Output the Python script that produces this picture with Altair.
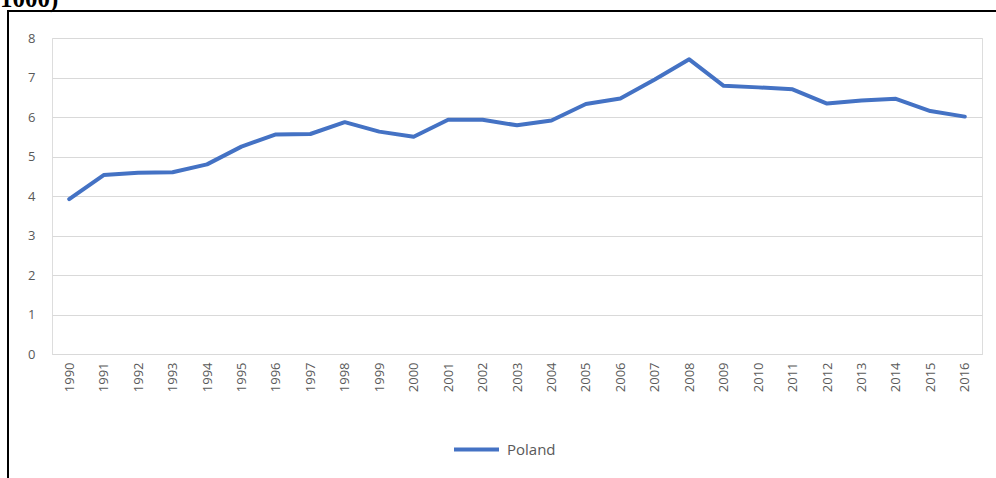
import altair as alt
import pandas as pd

# Annual series for Poland, 1990-2016
years = [str(y) for y in range(1990, 2017)]
values = [3.92, 4.53, 4.59, 4.60, 4.80, 5.25, 5.56, 5.57, 5.87, 5.63, 5.50,
          5.93, 5.93, 5.79, 5.91, 6.33, 6.47, 6.95, 7.46, 6.79, 6.75, 6.70,
          6.34, 6.42, 6.46, 6.15, 6.01]
series = ["Poland"] * len(years)

df = pd.DataFrame({"year": years, "value": values, "country": series})

W, H = 930, 316
LABEL_FONT = "Open Sans"
GREY = "#595959"

line = alt.Chart(df).mark_line(strokeWidth=4, strokeJoin="round", strokeCap="round").encode(
    x=alt.X("year:O", title=None, sort=years,
            scale=alt.Scale(type="point", padding=0.5),
            axis=alt.Axis(labelAngle=-90, labelAlign="right", labelBaseline="middle",
                          labelPadding=8, ticks=False, domain=True, domainColor="#D9D9D9",
                          domainWidth=1, labelColor=GREY, labelFontSize=13,
                          labelFont=LABEL_FONT, grid=False)),
    y=alt.Y("value:Q", title=None,
            scale=alt.Scale(domain=[0, 8], nice=False),
            axis=alt.Axis(values=list(range(0, 9)), tickCount=9, ticks=False, domain=False,
                          gridColor="#D9D9D9", gridWidth=1, labelColor=GREY,
                          labelFontSize=13, labelFont=LABEL_FONT, labelPadding=17)),
    color=alt.Color("country:N", title=None,
                    scale=alt.Scale(range=["#4472C4"]),
                    legend=alt.Legend(orient="none", legendX=400, legendY=387,
                                      symbolType="stroke", symbolSize=2025,
                                      symbolStrokeWidth=4, labelFontSize=15,
                                      labelFont=LABEL_FONT, labelColor=GREY,
                                      labelOffset=6)),
)

# Frame lines around the figure (top and left edges)
top_rule = alt.Chart(df).mark_rule(color="black", strokeWidth=2).encode(
    x=alt.value(-44), x2=alt.value(W + 20), y=alt.value(-27)
)
left_rule = alt.Chart(df).mark_rule(color="black", strokeWidth=2).encode(
    x=alt.value(-44), y=alt.value(-28), y2=alt.value(H + 130)
)

# Caption fragment above the frame
caption = alt.Chart(pd.DataFrame({"t": ["1000)"]})).mark_text(
    font="Liberation Serif", fontSize=25, fontWeight="bold", color="black",
    align="left", baseline="alphabetic"
).encode(x=alt.value(-52), y=alt.value(-31), text="t:N")

chart = alt.layer(line, top_rule, left_rule, caption).properties(
    width=W, height=H,
    autosize=alt.AutoSizeParams(type="none"),
    padding={"left": 52, "top": 38, "right": 14, "bottom": 124},
).configure_view(stroke=None).configure(background="white")

chart.save("out.html", embed_options={"renderer": "svg", "actions": False})
